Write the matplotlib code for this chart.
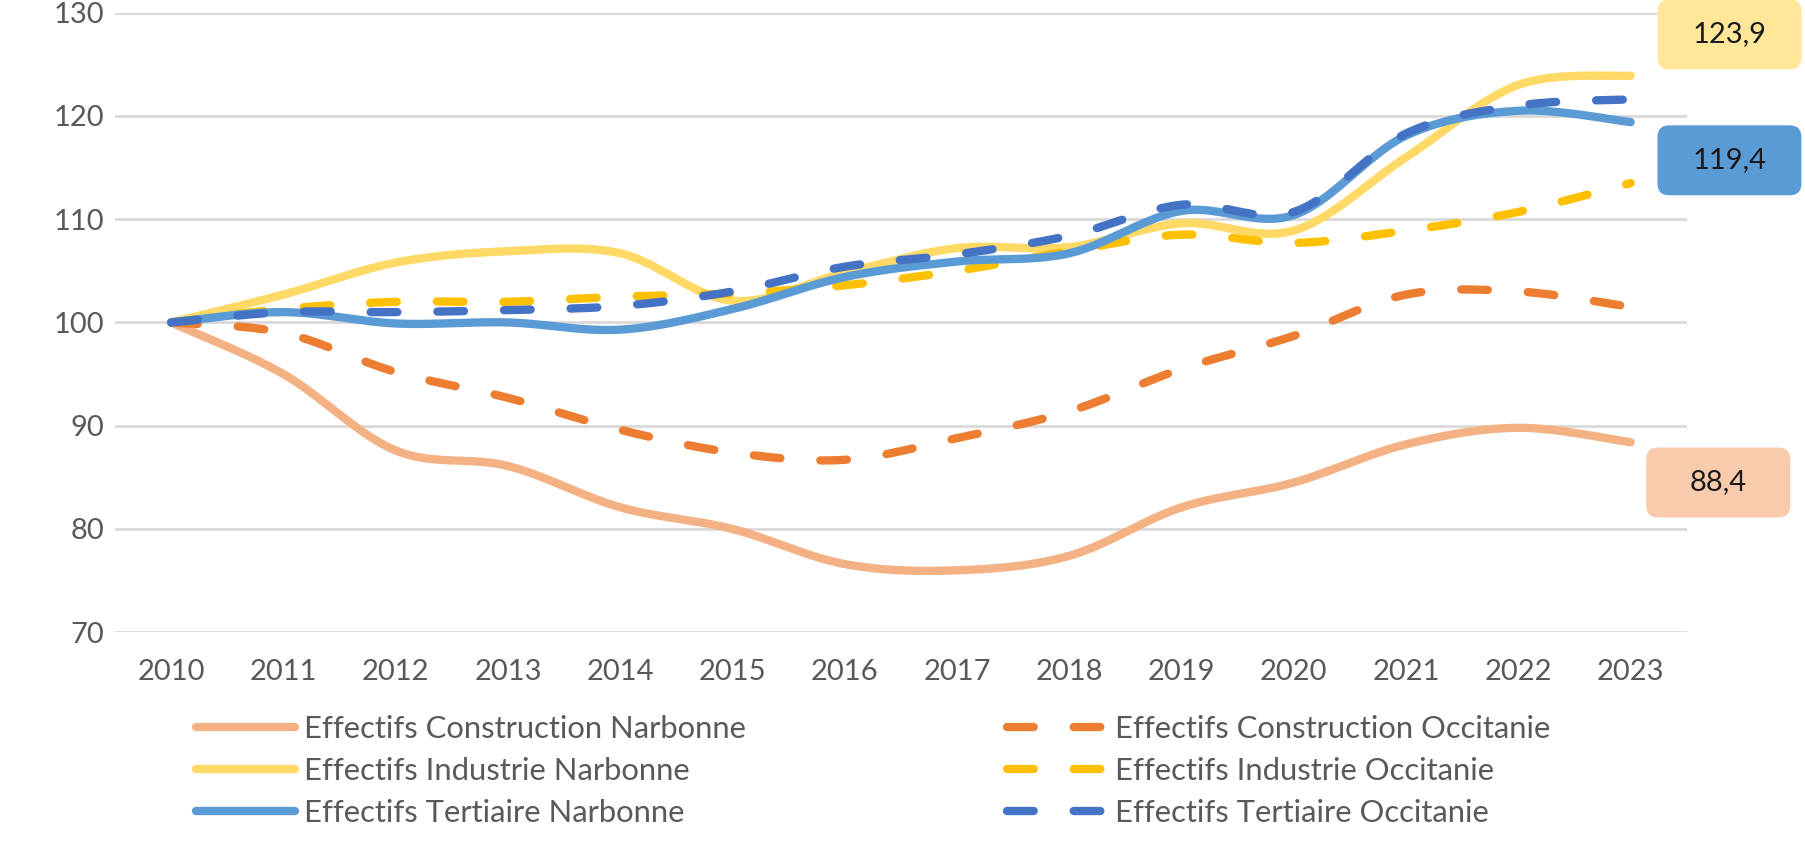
import numpy as np
import matplotlib
matplotlib.use("Agg")
import matplotlib.pyplot as plt
from matplotlib.patches import FancyBboxPatch
from matplotlib.transforms import IdentityTransform

plt.rcParams['font.family'] = ['Lato', 'DejaVu Sans']

years = [2010, 2011, 2012, 2013, 2014, 2015, 2016, 2017, 2018, 2019, 2020, 2021, 2022, 2023]

constr_narbonne = [100, 95.0, 87.6, 86.1, 82.1, 80.0, 76.6, 76.0, 77.4, 82.1, 84.5, 88.2, 89.8, 88.4]
constr_occitanie = [100, 99.0, 95.2, 92.7, 89.6, 87.4, 86.7, 88.8, 91.4, 95.5, 98.7, 102.7, 103.0, 101.5]
indus_narbonne = [100, 102.7, 105.8, 106.9, 106.7, 102.1, 104.8, 107.2, 107.3, 109.6, 108.9, 116.0, 123.0, 123.9]
indus_occitanie = [100, 101.3, 102.0, 102.0, 102.5, 102.8, 103.6, 105.0, 106.9, 108.5, 107.7, 108.9, 110.7, 113.5]
tert_narbonne = [100, 101.0, 99.9, 100.0, 99.3, 101.3, 104.4, 105.9, 106.7, 110.8, 110.4, 118.1, 120.5, 119.4]
tert_occitanie = [100, 101.0, 101.0, 101.2, 101.6, 103.0, 105.4, 106.6, 108.4, 111.4, 110.7, 118.3, 121.0, 121.6]

labels = ["Effectifs Construction Narbonne", "Effectifs Construction Occitanie",
          "Effectifs Industrie Narbonne", "Effectifs Industrie Occitanie",
          "Effectifs Tertiaire Narbonne", "Effectifs Tertiaire Occitanie"]
colors = ["#F4B183", "#ED7D31", "#FFD966", "#FFC000", "#5B9BD5", "#4472C4"]
dashed = [False, True, False, True, False, True]
series = [constr_narbonne, constr_occitanie, indus_narbonne, indus_occitanie,
          tert_narbonne, tert_occitanie]


def smooth(x, y, n=24):
    # excel-like smoothed line (catmull-rom bezier)
    x = np.asarray(x, float)
    y = np.asarray(y, float)
    px = np.concatenate([[x[0]], x, [x[-1]]])
    py = np.concatenate([[y[0]], y, [y[-1]]])
    xs, ys = [], []
    for i in range(len(x) - 1):
        t = np.linspace(0, 1, n, endpoint=(i == len(x) - 2))
        b0x, b0y = px[i + 1], py[i + 1]
        b3x, b3y = px[i + 2], py[i + 2]
        b1x = b0x + (px[i + 2] - px[i]) / 6
        b1y = b0y + (py[i + 2] - py[i]) / 6
        b2x = b3x - (px[i + 3] - px[i + 1]) / 6
        b2y = b3y - (py[i + 3] - py[i + 1]) / 6
        u = 1 - t
        xs.append(u**3 * b0x + 3 * u**2 * t * b1x + 3 * u * t**2 * b2x + t**3 * b3x)
        ys.append(u**3 * b0y + 3 * u**2 * t * b1y + 3 * u * t**2 * b2y + t**3 * b3y)
    return np.concatenate(xs), np.concatenate(ys)


fig = plt.figure(figsize=(18.06, 8.43), dpi=100)
ax = fig.add_axes([0.0637, 0.250, 0.8703, 0.735])

lines = []
for vals, lab, col, dash in zip(series, labels, colors, dashed):
    sx, sy = smooth(years, vals)
    if dash:
        ln, = ax.plot(sx, sy, color=col, lw=6, label=lab, dashes=(3.2, 4.8),
                      dash_capstyle='round', solid_capstyle='round')
    else:
        ln, = ax.plot(sx, sy, color=col, lw=6, label=lab, solid_capstyle='round')
    lines.append(ln)

ax.set_xlim(2009.5, 2023.5)
ax.set_ylim(70, 130)
ax.set_yticks(range(70, 131, 10))
ax.set_xticks(years)
ax.grid(axis='y', color='#D9D9D9', lw=2)
ax.set_axisbelow(True)
for s in ax.spines.values():
    s.set_visible(False)
ax.tick_params(axis='both', length=0, labelsize=21, colors='#595959')
ax.tick_params(axis='y', pad=8)
ax.tick_params(axis='x', pad=19)

# value boxes at the end of the Narbonne series
fig.canvas.draw()
boxes = [(indus_narbonne[-1], 0.88, 4.0, "#FFE699"),
         (tert_narbonne[-1], 0.88, -3.7, "#5B9BD5"),
         (constr_narbonne[-1], 0.78, -3.9, "#F8CBAD")]
bw, bh = 144, 70
for val, dx, dy, fc in boxes:
    cx, cy = ax.transData.transform((years[-1] + dx, val + dy))
    fig.add_artist(FancyBboxPatch((cx - bw / 2, cy - bh / 2), bw, bh,
                                  boxstyle='round,pad=0,rounding_size=12',
                                  fc=fc, ec='none', transform=IdentityTransform(),
                                  clip_on=False))
    fig.text(cx, cy, f"{val:.1f}".replace('.', ','), transform=IdentityTransform(),
             ha='center', va='center', fontsize=21, color='#1a1a1a')

order = [0, 2, 4, 1, 3, 5]
leg = fig.legend([lines[i] for i in order], [labels[i] for i in order],
                 loc='upper left', bbox_to_anchor=(0.1085, 0.152), ncol=2,
                 frameon=False, fontsize=22.3, handlelength=3.2, handletextpad=0.28,
                 columnspacing=8.45, labelspacing=0.45, borderpad=0, borderaxespad=0)
for t in leg.get_texts():
    t.set_color('#595959')

fig.savefig("out.png", dpi=100)
